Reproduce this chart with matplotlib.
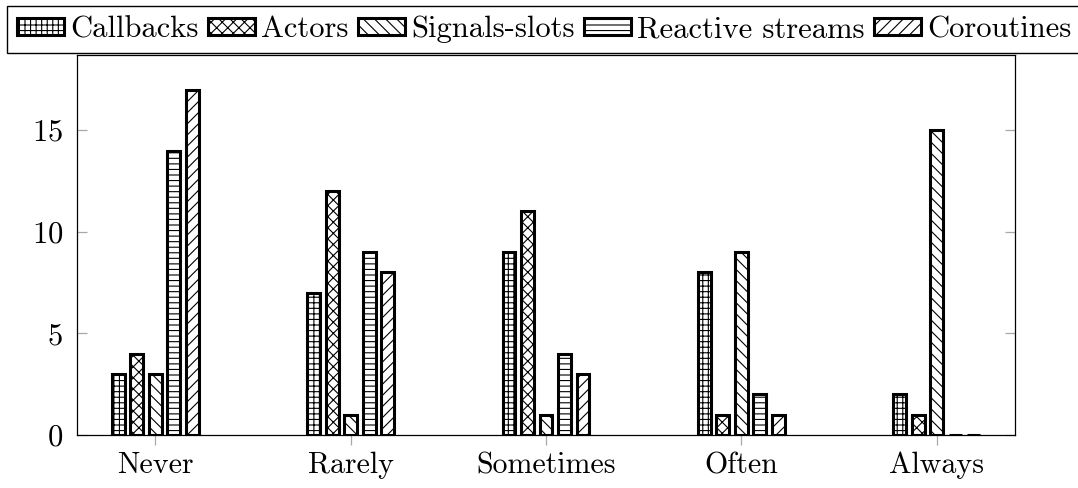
import matplotlib
matplotlib.use("Agg")
import matplotlib.pyplot as plt
import numpy as np

categories = ["Never", "Rarely", "Sometimes", "Often", "Always"]
series_names = ["Callbacks", "Actors", "Signals-slots", "Reactive streams", "Coroutines"]
callbacks = [3, 7, 9, 8, 2]
actors = [4, 12, 11, 1, 1]
signals_slots = [3, 1, 1, 9, 15]
reactive_streams = [14, 9, 4, 2, 0]
coroutines = [17, 8, 3, 1, 0]
y_ticks = [0, 5, 10, 15]

series_values = [callbacks, actors, signals_slots, reactive_streams, coroutines]
hatches = ["+++", "xxx", "\\\\\\", "---", "///"]

plt.rcParams["font.family"] = ["cmr10", "DejaVu Serif"]
plt.rcParams["axes.formatter.use_mathtext"] = True
plt.rcParams["hatch.linewidth"] = 0.8
plt.rcParams["hatch.color"] = "black"

fig = plt.figure(figsize=(10.78, 4.88), dpi=100)
ax = fig.add_axes([77 / 1078, 1 - 435 / 488, (1015 - 77) / 1078, (435 - 55) / 488])

x = np.arange(len(categories))
step = 0.0947
width = 0.066
handles = []
for i, (name, vals, h) in enumerate(zip(series_names, series_values, hatches)):
    b = ax.bar(x + (i - 2) * step, vals, width, label=name, facecolor="white",
               edgecolor="black", linewidth=2.2, hatch=h, zorder=3)
    handles.append(b)

ax.set_xlim(-0.4, 4.4)
ax.set_ylim(0, 18.7)
ax.set_xticks(x)
ax.set_xticklabels(categories)
ax.set_yticks(y_ticks)

for s in ax.spines.values():
    s.set_linewidth(0.9)
    s.set_color("black")

ax.tick_params(axis="y", direction="in", left=True, right=True, length=7,
               width=0.9, color="#a8a8a8", labelsize=22, pad=10)
ax.tick_params(axis="x", direction="out", bottom=True, top=False, length=7,
               width=0.9, color="#a8a8a8", labelsize=21.5, pad=5)

leg = fig.legend(handles=handles, labels=series_names, loc="upper left",
                 bbox_to_anchor=(7 / 1078, 1 - 6 / 488), ncol=5, fontsize=22,
                 frameon=True, fancybox=False, framealpha=1, edgecolor="black",
                 handlelength=1.55, handleheight=0.5, handletextpad=0.2,
                 columnspacing=0.3, borderpad=0.32, borderaxespad=0)
leg.get_frame().set_linewidth(1.0)

fig.savefig("out.png", dpi=100)
